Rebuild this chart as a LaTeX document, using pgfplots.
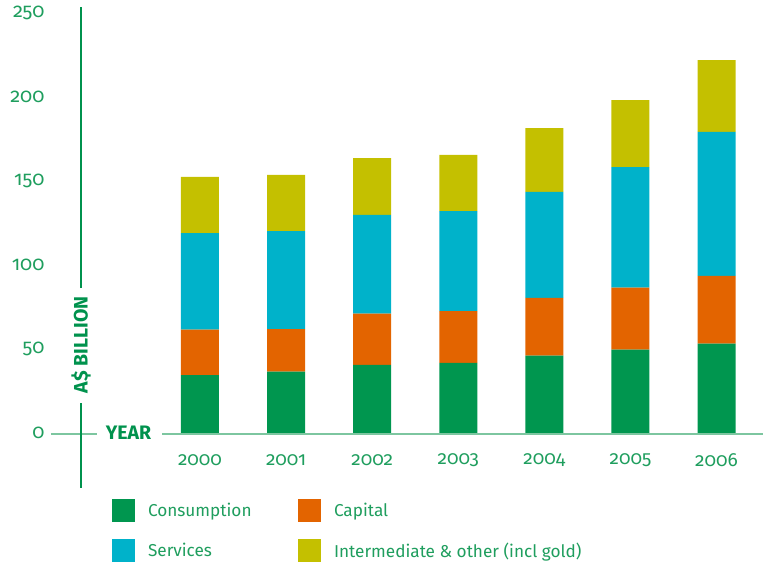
\documentclass[border=0pt]{standalone}
\usepackage{fontspec}
\setmainfont{Fira Sans}[Numbers=OldStyle]
\usepackage{pgfplots}
\pgfplotsset{compat=1.18}
\definecolor{cGreen}{HTML}{00964F}
\definecolor{cOrange}{HTML}{E36400}
\definecolor{cCyan}{HTML}{00B2CA}
\definecolor{cOlive}{HTML}{C4C000}
\definecolor{txtGreen}{HTML}{1F9E5E}
\definecolor{lblGreen}{HTML}{00924D}
\definecolor{lineGreen}{HTML}{7DC6A0}
\begin{document}
\begin{tikzpicture}
\useasboundingbox (0pt,0pt) rectangle (763pt,564pt);
\begin{axis}[
  at={(51pt,76pt)}, anchor=south west,
  scale only axis, width=712pt, height=481pt,
  xmin=-1.7305, xmax=6.539, ymin=-32.74, ymax=253.6,
  ybar stacked, bar width=38pt,
  axis line style={draw=none}, tick style={draw=none},
  ytick={0,50,100,150,200,250},
  xtick={0,1,2,3,4,5,6},
  xticklabels={2000,2001,2002,2003,2004,2005,2006},
  /pgf/number format/assume math mode=true,
  yticklabel style={font=\fontsize{20}{22}\selectfont, text=txtGreen, xshift=-3pt},
  xticklabel style={font=\fontsize{19}{21}\selectfont, text=txtGreen, anchor=center, yshift=28pt},
  legend columns=2,
  legend style={at={(rel axis cs:0.0857,-0.0229)}, anchor=north west, draw=none,
    inner sep=0pt, outer sep=0pt, font=\fontsize{17.2}{20}\selectfont, text=txtGreen,
    nodes={inner sep=0pt}, row sep=17pt, column sep=0pt,
    /tikz/every odd column/.append style={column sep=13pt}},
  legend cell align=left,
]
\addplot[fill=cGreen, draw=none, legend image code/.code={\fill[cGreen] (0pt,-11.5pt) rectangle (23pt,11.5pt);}]
  coordinates {(0,34.5) (1,36.5) (2,40.5) (3,41.7) (4,46) (5,49.6) (6,53.2)};
\addlegendentry{\makebox[150pt][l]{Consumption}}
\addplot[fill=cOrange, draw=none, legend image code/.code={\fill[cOrange] (0pt,-11.5pt) rectangle (23pt,11.5pt);}]
  coordinates {(0,27) (1,25.4) (2,30.5) (3,30.9) (4,34.5) (5,36.9) (6,40.4)};
\addlegendentry{Capital}
\addplot[fill=cCyan, draw=none, legend image code/.code={\fill[cCyan] (0pt,-11.5pt) rectangle (23pt,11.5pt);}]
  coordinates {(0,57.5) (1,58.3) (2,58.8) (3,59.5) (4,63) (5,71.8) (6,85.7)};
\addlegendentry{\makebox[150pt][l]{Services}}
\addplot[fill=cOlive, draw=none, legend image code/.code={\fill[cOlive] (0pt,-11.5pt) rectangle (23pt,11.5pt);}]
  coordinates {(0,33.4) (1,33.4) (2,33.9) (3,33.4) (4,38) (5,39.9) (6,42.7)};
\addlegendentry{Intermediate \& other (incl gold)}
% axis decorations
\draw[lblGreen, line width=1.3pt] (axis cs:-1.382,-32.74) -- (axis cs:-1.382,17.9);
\draw[lblGreen, line width=1.3pt] (axis cs:-1.382,86.3) -- (axis cs:-1.382,253.6);
\draw[lineGreen, line width=2pt] (axis cs:-1.7305,-0.3) -- (axis cs:-1.196,-0.3);
\draw[lineGreen, line width=2pt] (axis cs:-0.441,-0.3) -- (axis cs:6.539,-0.3);
\node[rotate=90, text=lblGreen, font=\fontsize{19.5}{20}\selectfont\bfseries] at (axis cs:-1.382,52.5) {A\$ BILLION};
\node[text=lblGreen, font=\fontsize{19.5}{20}\selectfont\bfseries] at (axis cs:-0.830,0) {YEAR};
\end{axis}
\end{tikzpicture}
\end{document}
